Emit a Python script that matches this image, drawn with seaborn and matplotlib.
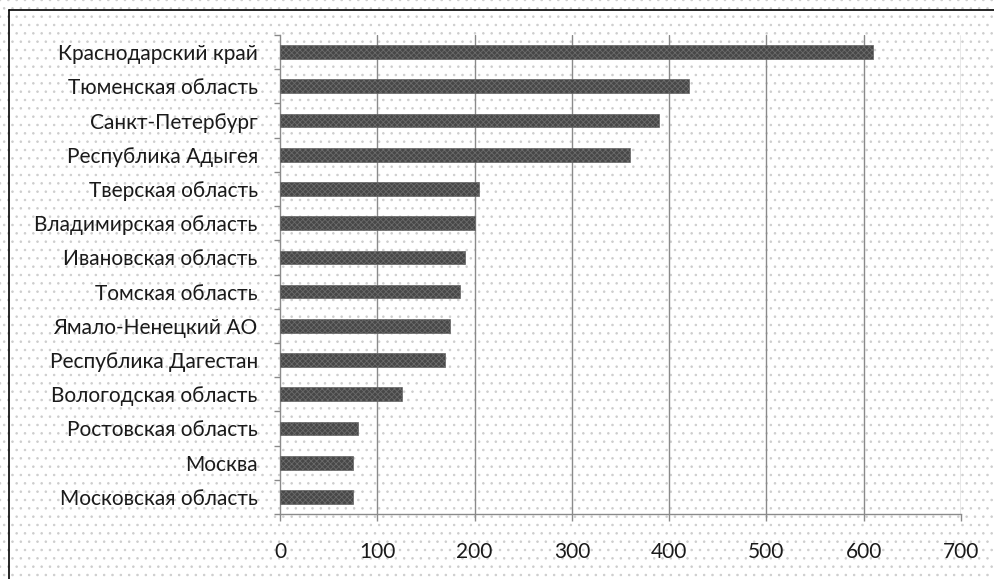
import matplotlib
matplotlib.use("Agg")
import matplotlib.pyplot as plt
import seaborn as sns
import pandas as pd
import numpy as np
from matplotlib.lines import Line2D

regions = [
    "Краснодарский край",
    "Тюменская область",
    "Санкт-Петербург",
    "Республика Адыгея",
    "Тверская область",
    "Владимирская область",
    "Ивановская область",
    "Томская область",
    "Ямало-Ненецкий АО",
    "Республика Дагестан",
    "Вологодская область",
    "Ростовская область",
    "Москва",
    "Московская область",
]
values = [610, 420, 390, 360, 205, 200, 190, 185, 175, 170, 125, 80, 75, 75]
x_ticks = [0, 100, 200, 300, 400, 500, 600, 700]

df = pd.DataFrame({"region": regions, "value": values})

sns.set_theme(style="white")
plt.rcParams["font.family"] = ["Lato", "DejaVu Sans"]
plt.rcParams["hatch.linewidth"] = 0.6

fig = plt.figure(figsize=(9.95, 5.79), dpi=100, facecolor="white",
                 edgecolor="#cdcdcd", linewidth=0)
fig.patch.set_hatch("..")

ax = fig.add_axes([280 / 995, 1 - 514 / 579, (961 - 280) / 995, (514 - 35) / 579])
ax.set_facecolor("none")

sns.barplot(data=df, x="value", y="region", orient="h", color="#474747",
            width=0.4, ax=ax, zorder=3)
for p in ax.patches:
    p.set_hatch("xxxxxx")
    p.set_edgecolor("#6a6a6a")
    p.set_linewidth(0.5)

ax.set_xlim(0, 700)
ax.set_ylim(13.5, -0.5)
ax.set_xticks(x_ticks)
ax.set_xticklabels([str(t) for t in x_ticks], fontsize=15, color="#1a1a1a")
ax.set_yticks(np.arange(-0.5, len(regions), 1.0), minor=True)
ax.tick_params(axis="y", which="major", labelsize=15, labelcolor="#1a1a1a",
               length=0, pad=16)
ax.tick_params(axis="y", which="minor", length=4, width=1, color="#8a8a8a",
               direction="out", left=True)
ax.tick_params(axis="x", which="major", length=5, width=1, color="#8a8a8a",
               direction="out", bottom=True, pad=15)
ax.set_xlabel("")
ax.set_ylabel("")

for t in x_ticks[1:]:
    ax.axvline(t, color="#8a8a8a", lw=1.0, zorder=1)

for s in ["top", "right"]:
    ax.spines[s].set_visible(False)
for s in ["left", "bottom"]:
    ax.spines[s].set_color("#8a8a8a")
    ax.spines[s].set_linewidth(1.0)

# Frame lines along the top and left edges of the image
W, H = 995, 579
fig.add_artist(Line2D([9 / W, 1], [1 - 10 / H, 1 - 10 / H], color="black", lw=1.2,
                      transform=fig.transFigure))
fig.add_artist(Line2D([9 / W, 9 / W], [0, 1 - 10 / H], color="black", lw=1.2,
                      transform=fig.transFigure))

fig.savefig("out.png", dpi=100)
